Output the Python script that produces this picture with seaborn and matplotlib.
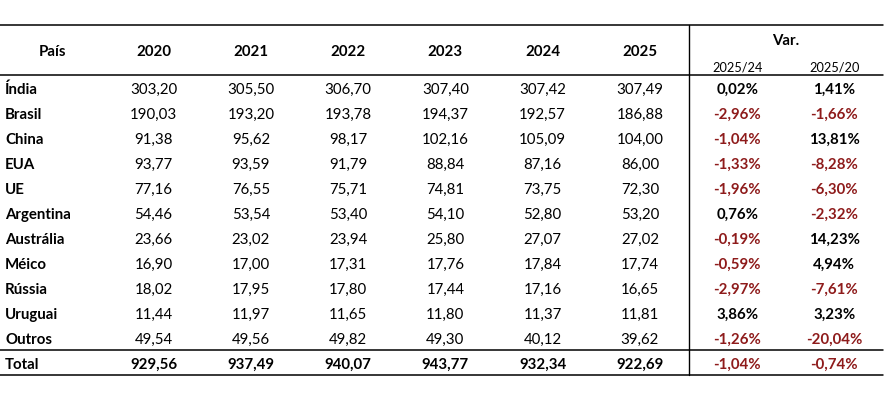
import numpy as np
import pandas as pd
import matplotlib
matplotlib.use("Agg")
import matplotlib.pyplot as plt
import seaborn as sns

# ── Data ──
paises = ["Índia", "Brasil", "China", "EUA", "UE", "Argentina", "Austrália",
          "Méico", "Rússia", "Uruguai", "Outros", "Total"]
anos = ["2020", "2021", "2022", "2023", "2024", "2025"]
v2020 = [303.20, 190.03, 91.38, 93.77, 77.16, 54.46, 23.66, 16.90, 18.02, 11.44, 49.54, 929.56]
v2021 = [305.50, 193.20, 95.62, 93.59, 76.55, 53.54, 23.02, 17.00, 17.95, 11.97, 49.56, 937.49]
v2022 = [306.70, 193.78, 98.17, 91.79, 75.71, 53.40, 23.94, 17.31, 17.80, 11.65, 49.82, 940.07]
v2023 = [307.40, 194.37, 102.16, 88.84, 74.81, 54.10, 25.80, 17.76, 17.44, 11.80, 49.30, 943.77]
v2024 = [307.42, 192.57, 105.09, 87.16, 73.75, 52.80, 27.07, 17.84, 17.16, 11.37, 40.12, 932.34]
v2025 = [307.49, 186.88, 104.00, 86.00, 72.30, 53.20, 27.02, 17.74, 16.65, 11.81, 39.62, 922.69]
var_labels = ["2025/24", "2025/20"]
var_24 = [0.02, -2.96, -1.04, -1.33, -1.96, 0.76, -0.19, -0.59, -2.97, 3.86, -1.26, -1.04]
var_20 = [1.41, -1.66, 13.81, -8.28, -6.30, -2.32, 14.23, 4.94, -7.61, 3.23, -20.04, -0.74]

df = pd.DataFrame({"2020": v2020, "2021": v2021, "2022": v2022, "2023": v2023,
                   "2024": v2024, "2025": v2025,
                   "2025/24": var_24, "2025/20": var_20}, index=paises)

sns.set_theme(style="white")
plt.rcParams['font.family'] = ['Lato', 'DejaVu Sans']

RED = "#8E1B1B"
FS = 10.8
CW = 97.25          # px per column
X0 = -105 / CW      # left edge of the País column, in column units
DY = 0.1            # small nudge so text sits like the Excel original

def br(x, pct=False):
    s = f"{x:,.2f}".replace(",", "X").replace(".", ",").replace("X", ".")
    return s + "%" if pct else s

W, H = 889, 404
fig = plt.figure(figsize=(W / 100, H / 100), dpi=100)
# table spans x 0..883 px, y 25..375 px
ax = fig.add_axes([0, 1 - 375 / H, 883 / W, 350 / H])
sns.heatmap(np.zeros(df.shape), cmap=["white"], cbar=False, ax=ax,
            xticklabels=False, yticklabels=False)
ax.set_xlim(X0, df.shape[1])
ax.set_ylim(df.shape[0], -2)
ax.axis("off")

ncol = len(anos)
# header
ax.text(X0 + 52 / CW, -1 + DY, "País", ha="center", va="center",
        fontsize=FS, fontweight="bold", color="black")
for j, a in enumerate(anos):
    ax.text(j + 0.5, -1 + DY, a, ha="center", va="center", fontsize=FS,
            fontweight="bold", color="black")
ax.text(ncol + 1.0, -1.4 + DY / 2, "Var.", ha="center", va="center", fontsize=FS,
        fontweight="bold", color="black")
for k, lab in enumerate(var_labels):
    ax.text(ncol + k + 0.5, -0.3, lab, ha="center", va="center",
            fontsize=FS - 1.6, color="black")

# body
for i, p in enumerate(paises):
    total = p == "Total"
    ax.text(X0 + 5 / CW, i + 0.5 + DY, p, ha="left", va="center", fontsize=FS,
            fontweight="bold", color="black")
    for j, a in enumerate(anos):
        ax.text(j + 0.5, i + 0.5 + DY, br(df.loc[p, a]), ha="center", va="center",
                fontsize=FS, fontweight="bold" if total else "normal",
                color="black")
    for k, lab in enumerate(var_labels):
        v = df.loc[p, lab]
        ax.text(ncol + k + 0.5, i + 0.5 + DY, br(v, pct=True), ha="center",
                va="center", fontsize=FS, fontweight="bold",
                color=RED if v < 0 else "black")

# rules
for y in [-2, 0, len(paises) - 1, len(paises)]:
    ax.plot([X0, df.shape[1]], [y, y], color="black", lw=1.1, clip_on=False)
ax.plot([ncol, ncol], [-2, len(paises)], color="black", lw=1.0, clip_on=False)

fig.savefig("out.png", dpi=100, facecolor="white")
